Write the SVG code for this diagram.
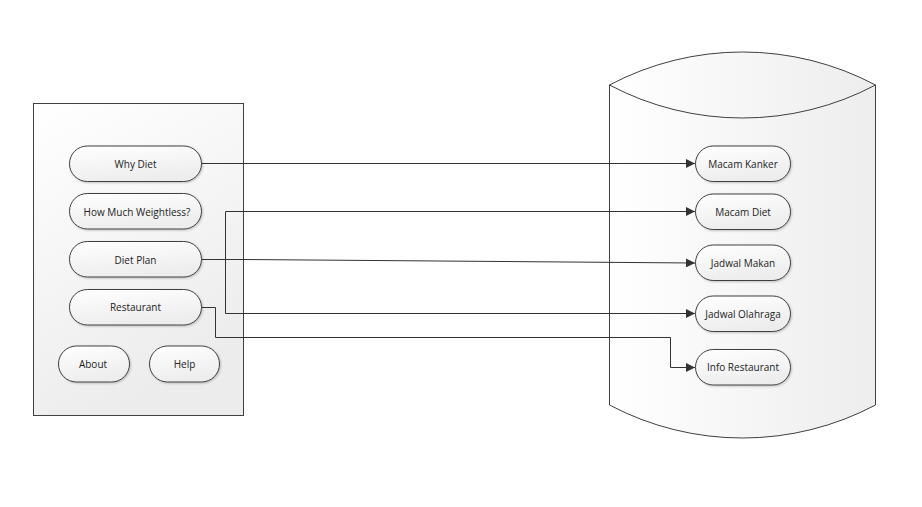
<svg xmlns="http://www.w3.org/2000/svg" width="922" height="507" viewBox="0 0 922 507">
<style>
.pill{fill:url(#gp);stroke:#404040;stroke-width:1;filter:url(#sh)}
.t{font-family:"Open Sans","Noto Sans","DejaVu Sans",sans-serif;font-size:10px;fill:#222;text-anchor:middle;dominant-baseline:central}
.c{fill:none;stroke:#333;stroke-width:1}
</style>
<defs>
<linearGradient id="gp" x1="0" y1="0" x2="0.3" y2="1">
<stop offset="0" stop-color="#ffffff"/>
<stop offset="1" stop-color="#ededed"/>
</linearGradient>
<linearGradient id="gr" x1="0" y1="0" x2="0.4" y2="1">
<stop offset="0" stop-color="#ffffff"/>
<stop offset="1" stop-color="#ececec"/>
</linearGradient>
<linearGradient id="gc" x1="0" y1="0" x2="1" y2="0">
<stop offset="0" stop-color="#ffffff"/>
<stop offset="1" stop-color="#ededed"/>
</linearGradient>
<filter id="sh" x="-10%" y="-20%" width="125%" height="150%">
<feGaussianBlur in="SourceAlpha" stdDeviation="0.8"/>
<feOffset dx="1" dy="1.2" result="b"/>
<feComponentTransfer><feFuncA type="linear" slope="0.22"/></feComponentTransfer>
<feMerge><feMergeNode/><feMergeNode in="SourceGraphic"/></feMerge>
</filter>
<marker id="ar" viewBox="0 0 10 10" refX="10" refY="5" markerWidth="10" markerHeight="9" markerUnits="userSpaceOnUse" orient="auto-start-reverse">
<path d="M0,0 L10,5 L0,10 z" fill="#333"/>
</marker>
</defs>
<rect width="922" height="507" fill="#ffffff"/>

<g id="screen">
<rect x="33.5" y="103.5" width="210" height="312" fill="url(#gr)" stroke="#404040"/>
</g>

<g id="database">
<path d="M609.5,85 A284.5,284.5 0 0 1 875.5,85 V405 A284.5,284.5 0 0 1 609.5,405 Z" fill="url(#gc)" stroke="#404040"/>
<path d="M609.5,85 A284.5,284.5 0 0 0 875.5,85" fill="none" stroke="#404040"/>
</g>

<g id="connectors">
<path class="c" d="M201.5,163.5 H695" marker-end="url(#ar)"/>
<path class="c" d="M695,211.5 H225.5 V313.5 H695" marker-start="url(#ar)" marker-end="url(#ar)"/>
<path class="c" d="M201.5,259.5 H243 L695,263" marker-end="url(#ar)"/>
<path class="c" d="M201.5,307.5 H215.5 V337.5 H670.5 V367.5 H695" marker-end="url(#ar)"/>
</g>

<g id="why-diet"><rect class="pill" x="69.5" y="146" width="132" height="35.5" rx="17.75"/><text class="t" x="135.5" y="163.5">Why Diet</text></g>
<g id="how-much"><rect class="pill" x="69.5" y="193.5" width="132" height="35.5" rx="17.75"/><text class="t" x="137" y="211.5">How Much Weightless?</text></g>
<g id="diet-plan"><rect class="pill" x="69.5" y="241.5" width="132" height="35.5" rx="17.75"/><text class="t" x="135.5" y="259.5">Diet Plan</text></g>
<g id="restaurant"><rect class="pill" x="69.5" y="289.5" width="132" height="35.5" rx="17.75"/><text class="t" x="135.5" y="307">Restaurant</text></g>
<g id="about"><rect class="pill" x="58.5" y="346" width="71" height="36" rx="18"/><text class="t" x="93" y="364">About</text></g>
<g id="help"><rect class="pill" x="149.5" y="346" width="70" height="36" rx="18"/><text class="t" x="184.5" y="364">Help</text></g>

<g id="macam-kanker"><rect class="pill" x="695.5" y="146" width="95" height="35.5" rx="17.75"/><text class="t" x="743" y="163.5">Macam Kanker</text></g>
<g id="macam-diet"><rect class="pill" x="695.5" y="194" width="95" height="35.5" rx="17.75"/><text class="t" x="743" y="211.5">Macam Diet</text></g>
<g id="jadwal-makan"><rect class="pill" x="695.5" y="245" width="95" height="35.5" rx="17.75"/><text class="t" x="743" y="263">Jadwal Makan</text></g>
<g id="jadwal-olahraga"><rect class="pill" x="695.5" y="296" width="95" height="35.5" rx="17.75"/><text class="t" x="743" y="313.5">Jadwal Olahraga</text></g>
<g id="info-restaurant"><rect class="pill" x="695.5" y="349.5" width="95" height="35.5" rx="17.75"/><text class="t" x="743" y="367">Info Restaurant</text></g>
</svg>
